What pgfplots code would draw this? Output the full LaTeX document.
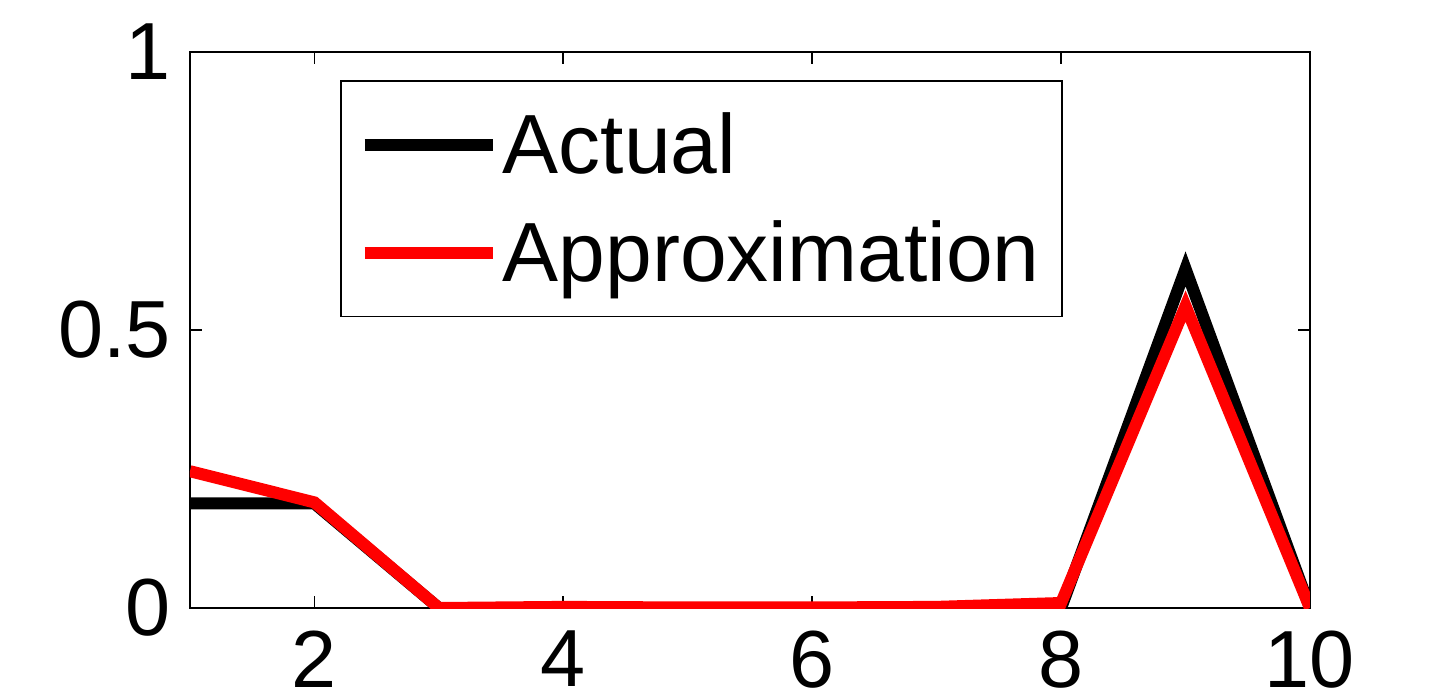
\documentclass[border=0pt]{standalone}
\usepackage{pgfplots}
\pgfplotsset{compat=1.18}
\usepackage{fontspec}
\setmainfont{Liberation Sans}
\begin{document}
\begin{tikzpicture}
\path[use as bounding box] (-95pt,-44.5pt) rectangle (630pt,304pt);
\begin{axis}[
  at={(0,0)}, anchor=south west,
  scale only axis, width=560pt, height=278pt,
  xmin=1, xmax=10, ymin=0, ymax=1,
  xtick={2,4,6,8,10}, ytick={0,0.5,1},
  tick align=inside, major tick length=6pt,
  axis line style={line width=0.9pt},
  every tick/.style={black, line width=0.9pt},
  /pgf/number format/assume math mode=true,
  tick label style={font=\fontsize{40.5}{48}\selectfont},
  xticklabel style={yshift=-8pt},
  yticklabel style={xshift=-6pt},
  legend style={at={(0.1339,0.9496)}, anchor=north west,
    font=\fontsize{42}{50}\selectfont, draw=black, line width=0.8pt,
    inner xsep=9pt, inner ysep=14pt, row sep=18pt},
  legend cell align=left,
  legend image code/.code={\draw[#1] (0pt,0pt) -- (62pt,0pt); \path (0pt,0pt) -- (64pt,0pt);},
]
\addplot[black, line width=6pt] coordinates {(1,0.188) (2,0.188) (3,0) (4,0) (5,0) (6,0) (7,0) (8,0) (9,0.61) (10,0)};
\addlegendentry{Actual}
\addplot[red, line width=6pt] coordinates {(1,0.246) (2,0.19) (3,0) (4,0.002) (5,0.001) (6,0.001) (7,0.002) (8,0.009) (9,0.543) (10,0)};
\addlegendentry{Approximation}
\end{axis}
\end{tikzpicture}
\end{document}
